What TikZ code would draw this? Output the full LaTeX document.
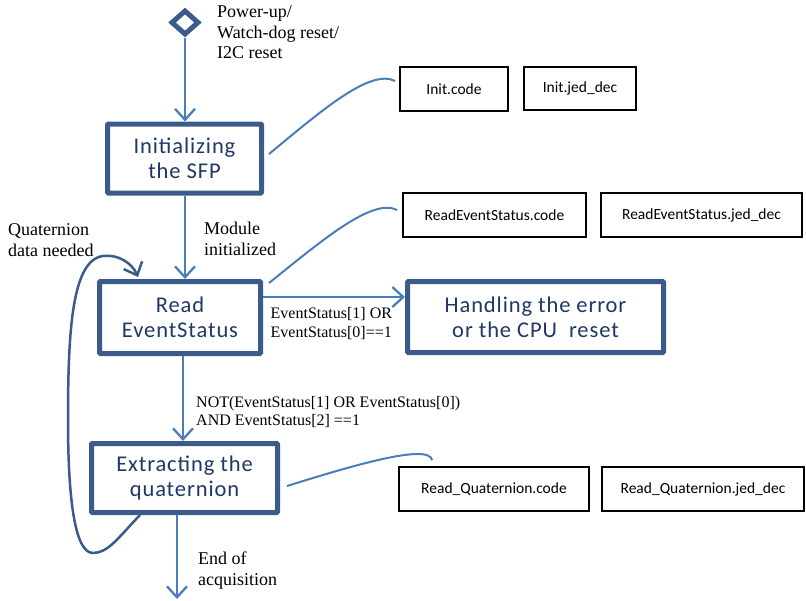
\documentclass[tikz,border=0pt]{standalone}
\usepackage{fontspec}
\setmainfont{Liberation Serif}
\newfontfamily\boxfont[LetterSpace=4]{Carlito}
\newfontfamily\filefont{Carlito}
\usetikzlibrary{arrows.meta,shapes.geometric,calc}
\definecolor{boxblue}{RGB}{59,92,138}
\definecolor{txtblue}{RGB}{31,56,100}
\definecolor{lineblue}{RGB}{74,126,187}
\begin{document}
\begin{tikzpicture}[x=1pt,y=-1pt,
  state/.style={draw=boxblue, line width=5pt, fill=white, rounded corners=1pt,
    text=txtblue, font=\boxfont\fontsize{22.5}{25}\selectfont, align=center, inner sep=0pt},
  filebox/.style={draw=black, line width=1.8pt, inner sep=0pt,
    font=\filefont\fontsize{15.5}{18}\selectfont},
  flow/.style={draw=lineblue, line width=2.3pt,
    -{Straight Barb[length=11pt,width=20pt,line width=2.3pt]}},
  loopflow/.style={draw=boxblue, line width=2.5pt,
    -{Straight Barb[length=11pt,width=20pt,line width=2.5pt]}},
  link/.style={draw=lineblue, line width=2pt},
  lbl/.style={anchor=north west, align=left, inner sep=0pt, font=\fontsize{18}{20.5}\selectfont},
]
\useasboundingbox (0,0) rectangle (806,600);

% start diamond
\node[diamond, draw=boxblue, line width=5pt, fill=white, minimum width=28pt,
  minimum height=25pt, inner sep=0pt] (start) at (185,22.5) {};

% state boxes
\node[state, minimum width=154pt, minimum height=69pt] (init) at (184.5,158.5) {Initializing\\the SFP};
\node[state, minimum width=161pt, minimum height=72pt] (read) at (180,317.5) {Read\\EventStatus};
\node[state, minimum width=256pt, minimum height=71pt] (err) at (535.5,317) {Handling the error\\or the CPU~~reset};
\node[state, minimum width=186pt, minimum height=69pt] (ext) at (184.5,478) {Extracting the\\quaternion};

% file boxes
\node[filebox, minimum width=108pt, minimum height=44pt] (initc) at (454,89) {Init.code};
\node[filebox, minimum width=112pt, minimum height=43pt] (initj) at (580,88.5) {Init.jed\_dec};
\node[filebox, minimum width=183pt, minimum height=44pt] (resc) at (494.5,215) {ReadEventStatus.code};
\node[filebox, minimum width=201pt, minimum height=44pt] (resj) at (701.5,215) {ReadEventStatus.jed\_dec};
\node[filebox, minimum width=190pt, minimum height=44pt] (rqc) at (494,489) {Read\_Quaternion.code};
\node[filebox, minimum width=202pt, minimum height=44pt] (rqj) at (703,489) {Read\_Quaternion.jed\_dec};

% labels
\node[lbl] (lstart) at (217,5.7) {Power-up/\\Watch-dog reset/\\I2C reset};
\node[lbl] (lmod) at (204,222) {Module\\initialized};
\node[lbl] (lquat) at (8,223.7) {Quaternion\\data needed};
\node[lbl] (lend) at (198,551.7) {End of\\acquisition};
\node[lbl, font=\fontsize{16}{19}\selectfont] (lerr) at (270.5,307) {EventStatus[1] OR\\EventStatus[0]==1};
\node[lbl, font=\fontsize{16}{18}\selectfont] (lnot) at (196,396) {NOT(EventStatus[1] OR EventStatus[0])\\AND EventStatus[2] ==1};

% flow connectors
\draw[flow] (start.south) -- (start.south |- init.north);
\draw[flow] (init.south) ++(0.5,0) coordinate (is) -- (is |- read.north);
\draw[flow] ($(read.east)+(0,-20.5)$) coordinate (re) -- (re -| err.west);
\draw[flow] ($(read.south)+(3,0)$) coordinate (rs) -- (rs |- ext.north);
\coordinate (finish) at (177,599);
\draw[flow] (ext.south -| finish) -- (finish);

% loop back
\draw[loopflow] ($(ext.south west)+(51,0)$) .. controls +(-22,23) and +(15,0) .. (93,553)
  .. controls +(-18,0) and +(0,80) .. (68,420)
  .. controls +(0,-90) and +(-31,4) .. (103,256)
  .. controls +(15,-2) and +(-6,-14) .. ($(read.north west)+(41,-2)$);

% links to files
\draw[link] ($(init.east)+(5,-4.5)$) .. controls +(51,-42) and +(-25,-13) .. ($(initc.west)+(-4,-8)$);
\draw[link] ($(read.north east)+(6,4)$) .. controls +(50,-40) and +(-25,-13) .. ($(resc.west)+(-5,-5)$);
\draw[link] ($(ext.east)+(7,8)$) .. controls +(58,-18) and +(-3,-18) .. ($(rqc.north west)+(34,-6)$);
\end{tikzpicture}
\end{document}
